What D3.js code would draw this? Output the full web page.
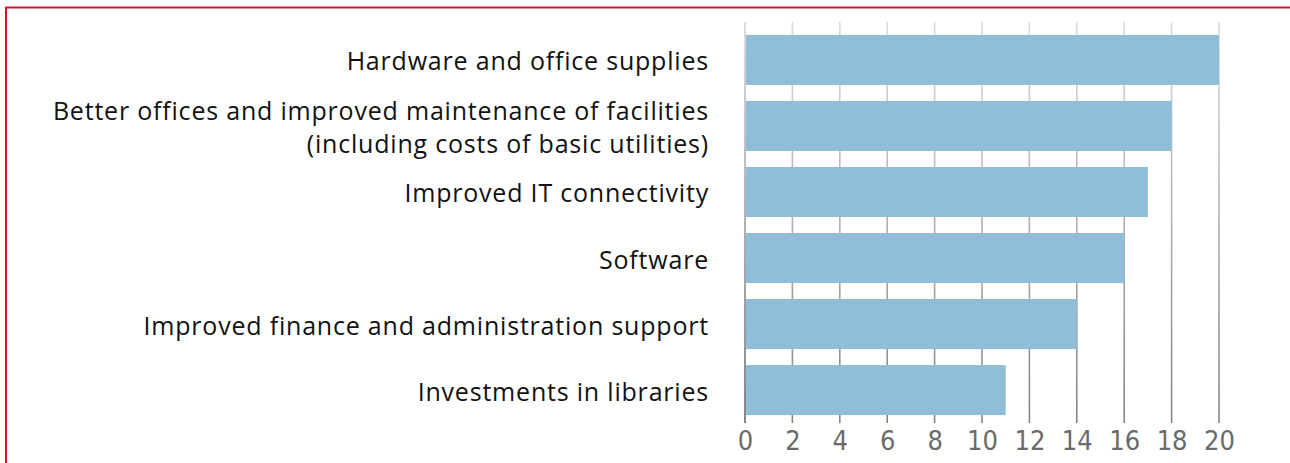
<!DOCTYPE html>
<html>
<head>
<meta charset="utf-8">
<script src="https://cdn.jsdelivr.net/npm/d3@7"></script>
<style>
    body { margin: 0; background: #fff; }
    svg { display: block; }
</style>
</head>
<body>
<script>

var categories = [
    ["Hardware and office supplies"],
    ["Better offices and improved maintenance of facilities", "(including costs of basic utilities)"],
    ["Improved IT connectivity"],
    ["Software"],
    ["Improved finance and administration support"],
    ["Investments in libraries"]
];
var values = [20, 18, 17, 16, 14, 11];
var tickValues = [0, 2, 4, 6, 8, 10, 12, 14, 16, 18, 20];

var width = 1290,
    height = 463;

var plot = { left: 745, right: 1219, top: 22, bottom: 423 };

var svg = d3.select("body")
    .append("svg")
        .attr("width", width)
        .attr("height", height);

// grid lines fade from light at the top to darker at the bottom
var grad = svg.append("defs")
    .append("linearGradient")
        .attr("id", "gridFade")
        .attr("gradientUnits", "userSpaceOnUse")
        .attr("x1", 0).attr("y1", plot.top)
        .attr("x2", 0).attr("y2", plot.bottom);
grad.append("stop").attr("offset", "0%").attr("stop-color", "#dcdcdc");
grad.append("stop").attr("offset", "100%").attr("stop-color", "#858585");

// red frame, only the top and left edges are visible
svg.append("rect")
    .attr("x", 6)
    .attr("y", 7.5)
    .attr("width", width + 20)
    .attr("height", height + 20)
    .attr("fill", "none")
    .attr("stroke", "#c8192e")
    .attr("stroke-width", 2);

var x = d3.scaleLinear()
    .domain([0, 20])
    .range([plot.left, plot.right]);

var y = d3.scaleBand()
    .domain(d3.range(categories.length))
    .range([27, plot.bottom])
    .paddingInner(0.2424)
    .paddingOuter(0.12);

svg.append("g")
    .attr("class", "grid")
    .selectAll("line")
    .data(tickValues)
    .enter()
    .append("line")
        .attr("x1", function (d) { return x(d); })
        .attr("x2", function (d) { return x(d); })
        .attr("y1", plot.top)
        .attr("y2", plot.bottom)
        .attr("stroke", "url(#gridFade)")
        .attr("stroke-width", function (d) { return d === 0 ? 2 : 1.6; });

svg.append("g")
    .attr("class", "bars")
    .selectAll("rect")
    .data(values)
    .enter()
    .append("rect")
        .attr("x", x(0) + 1)
        .attr("y", function (d, i) { return y(i); })
        .attr("width", function (d) { return x(d) - x(0) - 1; })
        .attr("height", y.bandwidth())
        .attr("fill", "#90bed8");

// x axis tick labels, no domain line or tick marks
var xAxis = d3.axisBottom(x)
    .tickValues(tickValues)
    .tickSize(0)
    .tickPadding(0);

var gx = svg.append("g")
    .attr("transform", "translate(0," + 450 + ")")
    .call(xAxis);

gx.select(".domain").remove();
gx.selectAll("text")
    .attr("y", 0)
    .attr("dy", 0)
    .style("font-family", "'Liberation Sans Narrow', 'DejaVu Sans Condensed', sans-serif")
    .style("font-size", "27px")
    .style("fill", "#6a6a6a");

// category labels, right aligned against the plot
var labels = svg.append("g")
    .attr("class", "labels")
    .selectAll("text")
    .data(categories)
    .enter()
    .append("text")
        .attr("text-anchor", "end")
        .style("font-family", "'Open Sans', 'Noto Sans', sans-serif")
        .style("font-size", "25px")
        .style("letter-spacing", "0.8px")
        .style("fill", "#111");

labels.each(function (lines, i) {
    var cy = y(i) + y.bandwidth() / 2;
    var lineH = 33;
    var start = cy - (lines.length - 1) * lineH / 2;
    d3.select(this).selectAll("tspan")
        .data(lines)
        .enter()
        .append("tspan")
            .attr("x", 709)
            .attr("y", function (d, j) { return start + j * lineH; })
            .attr("dy", "0.42em")
            .text(function (d) { return d; });
});

</script>
</body>
</html>
